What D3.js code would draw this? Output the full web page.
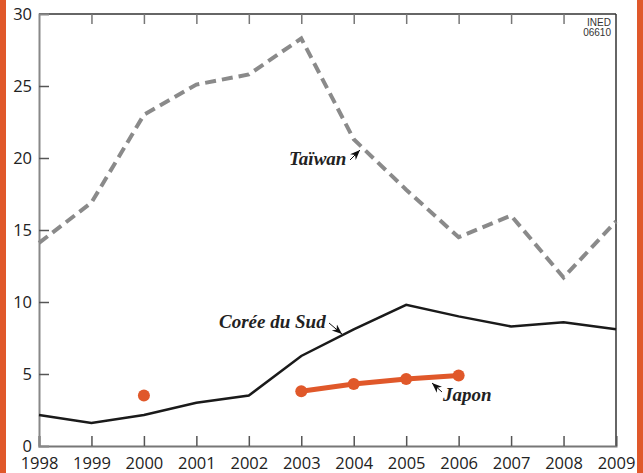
<!DOCTYPE html>
<html>
<head>
<meta charset="utf-8">
<script src="https://cdn.jsdelivr.net/npm/d3@7"></script>
<style>
  body { margin: 0; background: #fff; }
  svg { display: block; }
</style>
</head>
<body>
<div id="chart"></div>
<script>
// values
var years = [1998, 1999, 2000, 2001, 2002, 2003, 2004, 2005, 2006, 2007, 2008, 2009];
var taiwan = [14.1, 16.9, 23.0, 25.1, 25.8, 28.3, 21.3, 17.8, 14.5, 16.0, 11.7, 15.6];
var coree = [2.15, 1.6, 2.15, 3.0, 3.5, 6.25, 8.1, 9.8, 9.0, 8.3, 8.6, 8.1];
var japonYears = [2003, 2004, 2005, 2006];
var japon = [3.8, 4.3, 4.65, 4.9];
var japonIsolated = [{ year: 2000, value: 3.5 }];
var yTicks = [0, 5, 10, 15, 20, 25, 30];

var width = 643, height = 473;
var orange = "#e0582a";

var svg = d3.select("#chart")
  .append("svg")
  .attr("width", width)
  .attr("height", height);

// orange side bars
svg.append("rect").attr("x", 0).attr("y", 0).attr("width", 6).attr("height", height).attr("fill", orange);
svg.append("rect").attr("x", 637).attr("y", 0).attr("width", 6).attr("height", height).attr("fill", orange);

var x = d3.scaleLinear().domain([1998, 2009]).range([39, 616]);
var y = d3.scaleLinear().domain([0, 30]).range([446, 14]);

var tickFont = "'Open Sans', 'DejaVu Sans', sans-serif";

// frame
var frame = svg.append("g").attr("class", "frame");
frame.append("line").attr("x1", x(1998)).attr("x2", x(2009)).attr("y1", y(30)).attr("y2", y(30))
  .style("stroke", "#333").style("stroke-width", 1.5);
frame.append("line").attr("x1", x(2009)).attr("x2", x(2009)).attr("y1", y(30)).attr("y2", y(0))
  .style("stroke", "#333").style("stroke-width", 1.5);

// bottom axis, ticks pointing inward
var xAxis = svg.append("g")
  .attr("transform", "translate(0," + y(0) + ")")
  .call(d3.axisBottom(x).tickValues(years).tickFormat(d3.format("d")).tickSize(-10).tickPadding(11));
xAxis.select(".domain").style("stroke", "#777").style("stroke-width", 2);
xAxis.selectAll(".tick line").style("stroke", "#555").style("stroke-width", 1.5);
xAxis.selectAll("text").style("font-family", tickFont).style("font-size", "16.5px").style("fill", "#222");

// top ticks
svg.append("g")
  .attr("transform", "translate(0," + y(30) + ")")
  .call(d3.axisTop(x).tickValues(years.slice(1, -1)).tickFormat("").tickSize(-10))
  .call(g => g.select(".domain").remove())
  .selectAll(".tick line").style("stroke", "#777").style("stroke-width", 1.5);

// left axis
var yAxis = svg.append("g")
  .attr("transform", "translate(" + x(1998) + ",0)")
  .call(d3.axisLeft(y).tickValues(yTicks).tickSize(-10).tickPadding(7));
yAxis.select(".domain").style("stroke", "#888").style("stroke-width", 2);
yAxis.selectAll(".tick line").style("stroke", "#555").style("stroke-width", 1.5)
  .filter(d => d === 0 || d === 30).remove();
yAxis.selectAll("text").style("font-family", tickFont).style("font-size", "16.5px").style("fill", "#222");

// series
var line = d3.line().x(d => x(d[0])).y(d => y(d[1]));

svg.append("path")
  .datum(d3.zip(years, taiwan))
  .attr("d", line)
  .style("fill", "none")
  .style("stroke", "#8a8a8a")
  .style("stroke-width", 4)
  .style("stroke-dasharray", "11,6");

svg.append("path")
  .datum(d3.zip(years, coree))
  .attr("d", line)
  .style("fill", "none")
  .style("stroke", "#1a1a1a")
  .style("stroke-width", 2.5);

svg.append("path")
  .datum(d3.zip(japonYears, japon))
  .attr("d", line)
  .style("fill", "none")
  .style("stroke", orange)
  .style("stroke-width", 5);

svg.append("g")
  .selectAll("circle")
  .data(d3.zip(japonYears, japon).concat(japonIsolated.map(d => [d.year, d.value])))
  .enter().append("circle")
  .attr("cx", d => x(d[0]))
  .attr("cy", d => y(d[1]))
  .attr("r", 6)
  .style("fill", orange);

// labels with small arrowheads pointing at their line
var labelFont = "'Liberation Serif', 'DejaVu Serif', serif";
var labels = [
  { text: "Taïwan", tx: 289, ty: 165, from: [350, 160], to: [360, 150] },
  { text: "Corée du Sud", tx: 219, ty: 328, from: [329, 323], to: [342, 334] },
  { text: "Japon", tx: 443, ty: 401, from: [442, 392], to: [432, 383] }
];

svg.append("defs").append("marker")
  .attr("id", "arrow")
  .attr("viewBox", "0 0 10 10")
  .attr("refX", 10).attr("refY", 5)
  .attr("markerWidth", 10).attr("markerHeight", 10)
  .attr("markerUnits", "userSpaceOnUse")
  .attr("orient", "auto")
  .append("path").attr("d", "M0,1 L10,5 L0,9 L3,5 Z").style("fill", "#111");

var lg = svg.append("g").attr("class", "labels");
labels.forEach(function(l) {
  lg.append("text")
    .attr("x", l.tx).attr("y", l.ty)
    .style("font-family", labelFont)
    .style("font-style", "italic")
    .style("font-weight", "bold")
    .style("font-size", "19px")
    .style("fill", "#222")
    .text(l.text);
  lg.append("line")
    .attr("x1", l.from[0]).attr("y1", l.from[1])
    .attr("x2", l.to[0]).attr("y2", l.to[1])
    .style("stroke", "#111").style("stroke-width", 1)
    .attr("marker-end", "url(#arrow)");
});

// source code
var src = svg.append("text")
  .attr("x", 611).attr("y", 26)
  .attr("text-anchor", "end")
  .style("font-family", "'Liberation Sans Narrow', 'Liberation Sans', sans-serif")
  .style("font-stretch", "condensed")
  .style("font-size", "10px")
  .style("fill", "#333");
src.append("tspan").attr("x", 611).text("INED");
src.append("tspan").attr("x", 611).attr("dy", 10).text("06610");
</script>
</body>
</html>
